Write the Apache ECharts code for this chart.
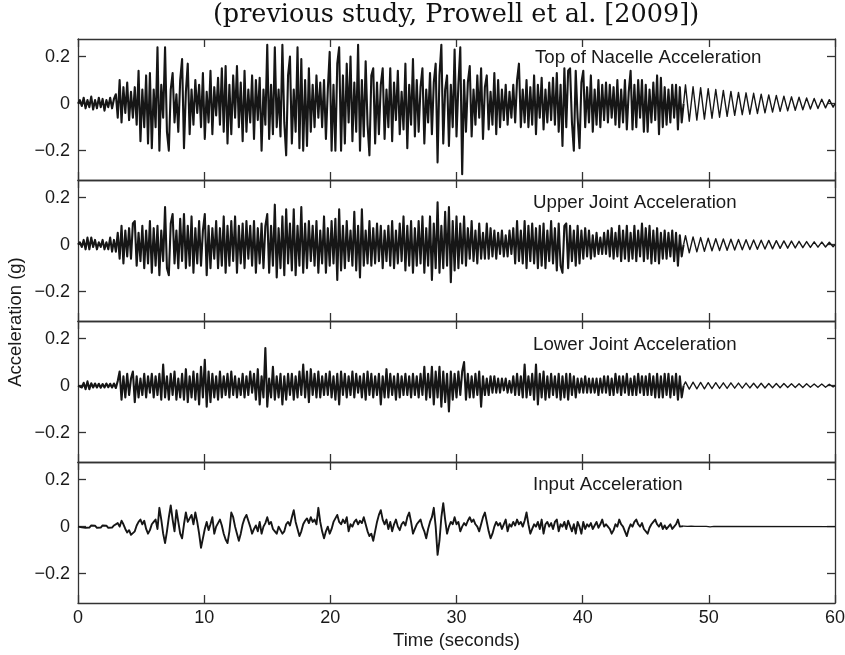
<!DOCTYPE html>
<html>
<head>
<meta charset="utf-8">
<script src="https://cdn.jsdelivr.net/npm/echarts@6/dist/echarts.min.js"></script>
<style>html,body{margin:0;padding:0;background:#fff}#c{width:845px;height:655px}</style>
</head>
<body>
<div id="c"></div>
<script>
// ---------------- data (in milli-g) ----------------
const sampleStep = 0.15;            // seconds between samples
const freeVibrationStart = 48;      // seconds: shaking stops, free vibration follows
const xTicks = [0, 10, 20, 30, 40, 50, 60];
const yTicks = [-0.2, 0, 0.2];
const yTickLabels = ['\u22120.2', '0', '0.2'];
const panelTitles = ['Top of Nacelle Acceleration', 'Upper Joint Acceleration', 'Lower Joint Acceleration', 'Input Acceleration'];

const topNacelle = [
  0,15,-10,25,-20,15,-15,30,-25,15,-20,25,-15,20,-30,15,-15,25,-20,20,
  40,-60,100,-80,70,-40,90,-70,50,-60,70,-90,140,-160,60,-100,120,-170,130,-190,
  60,-100,240,-200,80,-60,240,-120,-200,60,130,-80,40,-120,100,190,-190,50,170,-130,
  60,-90,100,-40,80,-100,130,-150,50,-80,140,-130,70,-50,110,-90,150,-120,160,-170,
  80,-130,120,-60,160,-100,90,-160,140,-120,60,-80,120,-150,100,-70,110,-200,60,-90,
  250,-150,80,-130,240,-100,60,-140,250,-80,-220,120,200,-170,60,-120,240,-190,190,-200,
  100,-180,150,-120,80,-100,120,-60,90,-100,100,-150,60,220,-200,80,-200,170,240,-200,
  120,-170,170,-80,200,-160,90,-120,250,-200,100,-140,180,-90,-220,120,150,-170,90,-130,
  80,150,-150,60,-100,150,-160,90,-70,140,-130,50,-110,170,-190,80,-90,190,-140,100,
  -120,70,150,-170,60,-80,130,-130,90,170,-250,120,250,-170,60,120,-180,80,-100,230,
  -140,80,240,-300,100,-120,90,160,-140,60,-90,120,-60,150,-150,70,120,-110,50,-90,
  130,-130,100,-100,60,-70,80,-90,50,-60,80,-80,100,170,-100,60,-80,100,-100,70,
  -90,120,-130,80,-60,110,-110,60,-80,90,-70,110,-90,130,-120,80,-180,150,-100,140,
  150,-80,-200,140,-60,-190,90,140,-100,70,-80,120,-120,60,-90,100,-100,80,-70,90,
  -80,80,-60,70,-90,100,-100,60,-80,100,-110,50,140,-110,80,-100,100,-60,100,-120,
  80,-120,60,-80,90,-70,120,-130,110,-100,70,-90,60,-80,80,-60,80,-110,70,-80,
  0,80,0,-75,0,72,0,-70,0,68,0,-66,0,64,0,-62,0,60,0,-58,
  0,56,0,-54,0,52,0,-50,0,48,0,-47,0,46,0,-45,0,44,0,-42,
  0,40,0,-39,0,37,0,-36,0,35,0,-33,0,32,0,-31,0,29,0,-28,
  0,27,0,-26,0,24,0,-23,0,22,0,-21,0,19,0,-18,0,17,0,-15,
  0
];

const upperJoint = [
  0,10,-10,20,-20,30,-20,30,-10,20,-20,10,-10,20,-20,10,-20,30,-30,20,
  -30,50,-60,80,-80,60,-50,70,-60,90,100,-90,50,-70,80,-100,60,-80,100,-120,
  70,-90,80,-130,60,-70,160,-100,-130,90,130,-80,60,-100,110,-70,130,-100,80,-90,
  120,-120,70,-80,100,-90,60,130,-130,80,-100,70,-60,100,-100,70,-90,120,-120,80,
  -90,100,-70,120,-120,80,-80,90,-100,100,-60,80,-90,100,-120,70,-80,90,-100,80,
  130,-120,80,-90,170,-140,70,-100,120,-130,150,-80,90,-110,150,-130,80,-90,160,-120,
  90,-100,100,-70,80,-90,100,-120,60,-80,120,-120,70,-90,100,-80,110,-150,150,-110,
  80,-100,100,-70,60,-90,140,-110,80,-140,150,-90,60,-80,100,-90,70,-80,90,-70,
  80,-100,60,-70,80,-90,100,-100,60,-80,90,-70,120,-110,80,-90,100,-120,70,-90,
  100,-80,120,-120,70,-90,120,-150,90,-100,180,-120,80,-100,140,-90,160,-160,100,-110,
  120,-100,90,-80,120,-90,70,-60,100,-70,60,-80,90,-60,50,-60,90,-60,70,-50,
  60,-60,50,-40,60,-50,40,-50,60,-40,70,-80,100,-70,60,-80,100,-100,80,-70,
  90,-80,70,-100,80,-90,90,-100,60,-70,100,-80,70,-110,90,-90,-120,80,90,-100,
  80,-70,60,-90,80,-80,60,-60,70,-50,60,-60,40,-50,50,-40,30,-40,50,-40,
  60,-50,70,-60,50,-50,80,-70,60,-60,80,-70,50,-60,80,-70,60,-50,90,-70,
  70,-60,80,-80,60,-70,70,-80,50,-60,60,-60,50,-50,60,-70,50,-90,40,-50,
  0,38,0,-35,0,33,0,-31,0,30,0,-28,0,27,0,-26,0,25,0,-25,
  0,24,0,-24,0,23,0,-23,0,22,0,-22,0,21,0,-21,0,20,0,-20,
  0,19,0,-19,0,18,0,-18,0,17,0,-16,0,16,0,-15,0,15,0,-14,
  0,14,0,-13,0,13,0,-12,0,12,0,-11,0,11,0,-10,0,10,0,-9,
  0
];

const lowerJoint = [
  0,8,-8,12,-15,18,-15,10,-8,9,-8,8,-9,7,-8,9,-7,8,-8,9,
  -10,20,60,-60,40,-50,50,-40,30,60,-70,40,-50,30,-40,50,-50,40,-30,50,
  -50,40,-40,50,-60,90,-50,40,-60,50,-40,60,-60,30,-50,50,-60,70,-70,40,
  -50,60,-60,50,-80,80,-50,110,-90,60,-70,50,-50,40,-60,60,-50,40,-40,50,
  -50,60,-40,40,-50,30,-40,50,-50,40,-40,60,-30,50,-60,70,-80,40,-50,160,
  -90,30,-50,80,-60,40,-50,50,-80,40,-60,50,-40,50,-60,40,-50,60,-40,90,
  -50,60,-70,70,-40,50,-50,60,-50,40,-40,50,-40,60,-50,40,-60,50,-80,60,
  -40,50,-50,40,-40,60,-50,50,-30,40,-50,50,-60,60,-40,50,-50,40,-40,50,
  -80,40,-50,70,-50,50,-40,40,-60,50,-50,40,-40,50,-40,40,-50,50,-40,40,
  -50,50,-40,80,-60,50,-50,80,-80,60,-50,80,-90,60,-70,50,-110,60,-60,50,
  -50,60,-40,60,100,-60,50,-50,40,-50,50,-40,60,-90,40,-40,30,-40,40,-30,
  40,-30,30,-30,30,-20,30,-30,20,-30,40,-40,50,-40,40,-50,90,-50,40,-40,
  50,-60,90,-80,50,-50,60,-60,40,-50,50,-40,40,-50,50,-60,40,-50,50,-60,
  50,-40,40,-50,30,-30,30,-30,40,-30,30,-30,30,-30,30,-40,30,-30,40,-30,
  40,-40,30,-40,50,-30,40,-40,40,-30,50,-40,30,-40,40,-40,50,-30,40,-40,
  40,-40,50,-40,40,-50,50,-50,40,-50,50,-40,50,-50,40,-40,50,-60,40,-50,
  0,16,0,-15,0,15,0,-14,0,14,0,-14,0,13,0,-13,0,13,0,-12,
  0,12,0,-12,0,12,0,-11,0,11,0,-11,0,11,0,-10,0,10,0,-10,
  0,10,0,-10,0,9,0,-9,0,9,0,-9,0,9,0,-8,0,8,0,-8,
  0,8,0,-8,0,8,0,-7,0,7,0,-7,0,7,0,-7,0,6,0,-6,
  0
];

const inputAccel = [
  0,5,-3,4,-5,3,-4,5,-3,4,-5,3,-4,5,-3,4,-5,3,-4,5,
  5,15,0,25,10,-10,-25,-15,-35,-40,-20,5,20,30,10,25,-10,-30,-15,10,
  20,30,-10,80,30,-30,-70,-20,40,90,30,-20,70,20,-30,-50,10,60,20,35,
  50,10,60,20,-30,-90,-50,-10,20,-15,10,40,-30,0,15,30,5,-30,-55,-70,
  -20,60,40,0,-30,-60,-30,10,35,50,25,0,-30,-10,5,-20,20,-30,0,15,
  40,10,20,-10,-20,-30,0,-15,-30,-20,10,20,5,40,70,20,-10,-40,-20,10,
  25,35,15,40,20,30,10,80,20,-20,-50,-20,0,-30,-10,20,35,50,20,10,
  30,15,40,-20,10,0,20,30,10,25,15,40,10,-20,-40,-30,-60,-20,20,50,
  70,30,10,30,-10,20,-20,10,30,0,-15,10,20,5,40,60,20,-30,-10,10,
  20,30,0,-20,-50,-10,20,40,80,0,-120,-60,40,100,30,-30,0,20,10,40,
  10,20,-20,0,15,5,25,40,20,30,10,0,-20,10,40,60,20,-20,-50,-30,
  0,20,5,15,-10,10,30,-20,10,0,20,5,30,10,20,0,25,60,10,-30,
  -10,10,0,20,-10,30,-30,10,20,0,15,-10,20,30,-20,10,0,20,-10,25,
  30,-20,10,-30,20,0,-30,20,-10,10,0,15,-10,5,20,-5,10,30,0,10,
  0,-10,-30,-15,10,0,30,10,0,-20,-40,-10,10,0,20,30,10,0,15,-10,
  -10,-30,-5,10,20,30,10,0,15,-10,5,-10,0,10,-10,0,10,30,0,5,
  2,-2,1,-1,2,-1,1,-2,1,-1,1,-1,1,0,-1,0,1,0,0,0,
  0,0,0,0,0,0,0,0,0,0,0,0,0,0,0,0,0,0,0,0,
  0,0,0,0,0,0,0,0,0,0,0,0,0,0,0,0,0,0,0,0,
  0,0,0,0,0,0,0,0,0,0,0,0,0,0,0,0,0,0,0,0,
  0
];

// ---------------- chart ----------------
const signals = [topNacelle, upperJoint, lowerJoint, inputAccel];
const shakingWidths = [2.1, 2.1, 2.1, 1.9];   // stroke during the shaking part
const freeWidths = [1.4, 1.4, 1.3, 1.2];      // stroke during free vibration
const gridTops = [39, 180, 321, 462];
const gridHeight = 141;
const sansFont = 'Liberation Sans';
const axisColor = '#333';
const textColor = '#1a1a1a';
const traceColor = '#161616';

const grids = [], xAxes = [], yAxes = [], series = [], graphics = [];
const splitIndex = Math.round(freeVibrationStart / sampleStep);

signals.forEach((arr, i) => {
  grids.push({ left: 78, right: 10, top: gridTops[i], height: gridHeight, show: false, containLabel: false, outerBoundsMode: 'none' });
  const lineSt = { color: axisColor, width: 1.3 };
  const xBase = {
    type: 'value', gridIndex: i, min: 0, max: 60, interval: 10,
    axisLine: { show: true, onZero: false, lineStyle: lineSt },
    axisTick: { show: true, inside: true, length: 8, lineStyle: lineSt },
    splitLine: { show: false }
  };
  xAxes.push(Object.assign({}, xBase, {
    position: 'bottom',
    axisLabel: { show: i === 3, color: textColor, fontSize: 18, fontFamily: sansFont, margin: 6, showMinLabel: true, showMaxLabel: true, hideOverlap: false },
    name: i === 3 ? 'Time (seconds)' : '',
    nameLocation: 'middle', nameGap: 28,
    nameTextStyle: { color: textColor, fontSize: 18.5, fontFamily: sansFont }
  }));
  xAxes.push(Object.assign({}, xBase, { position: 'top', axisLabel: { show: false } }));
  const yBase = {
    type: 'value', gridIndex: i, min: -0.325, max: 0.275,
    axisLine: { show: true, onZero: false, lineStyle: lineSt },
    axisTick: { show: true, inside: true, length: 8, customValues: yTicks, lineStyle: lineSt },
    splitLine: { show: false }
  };
  yAxes.push(Object.assign({}, yBase, {
    position: 'left',
    axisLabel: {
      show: true, customValues: yTicks, color: textColor, fontSize: 18, fontFamily: sansFont, margin: 8,
      formatter: v => { const k = yTicks.findIndex(t => Math.abs(t - v) < 1e-9); return k >= 0 ? yTickLabels[k] : ''; }
    }
  }));
  yAxes.push(Object.assign({}, yBase, { position: 'right', axisLabel: { show: false } }));

  const points = arr.map((v, k) => [k * sampleStep, v / 1000]);
  // free-vibration part: zero crossings lie on the straight segments between the
  // peaks, so they are left out (keeps the tiny late oscillations from being merged away)
  const tail = points.slice(splitIndex).filter((p, k, a) => p[1] !== 0 || k === 0 || k === a.length - 1);
  series.push({
    type: 'line', xAxisIndex: 2 * i, yAxisIndex: 2 * i,
    data: points.slice(0, splitIndex + 1),
    showSymbol: false, symbol: 'none', silent: true, animation: false,
    lineStyle: { color: traceColor, width: shakingWidths[i], join: 'round' }
  });
  series.push({
    type: 'line', xAxisIndex: 2 * i, yAxisIndex: 2 * i,
    data: tail,
    showSymbol: false, symbol: 'none', silent: true, animation: false,
    lineStyle: { color: traceColor, width: freeWidths[i], join: 'round' }
  });
  graphics.push({
    type: 'text', x: i === 0 ? 535 : 533, y: gridTops[i] + [19, 23, 24, 23][i],
    style: { text: panelTitles[i], font: '18.7px "Liberation Sans"', fill: textColor, align: 'left', verticalAlign: 'middle' }
  });
});

graphics.push({
  type: 'text', x: 456, y: 15,
  style: { text: '(previous study, Prowell et al. [2009])', font: '25.5px "DejaVu Serif"', fill: '#111', align: 'center', verticalAlign: 'middle' }
});
graphics.push({
  type: 'text', x: 16, y: 322, rotation: Math.PI / 2,
  style: { text: 'Acceleration (g)', font: '18.5px "Liberation Sans"', fill: textColor, align: 'center', verticalAlign: 'middle' }
});

const chart = echarts.init(document.getElementById('c'), null, { renderer: 'canvas' });
chart.setOption({
  animation: false,
  backgroundColor: '#fff',
  grid: grids, xAxis: xAxes, yAxis: yAxes, series: series,
  graphic: graphics
});
</script>
</body>
</html>
